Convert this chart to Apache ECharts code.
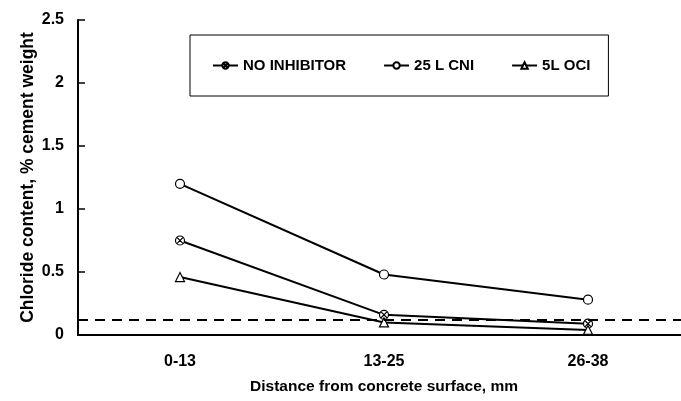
<!DOCTYPE html>
<html><head><meta charset="utf-8">
<script src="https://cdn.jsdelivr.net/npm/echarts@6/dist/echarts.min.js"></script>
<style>html,body{margin:0;padding:0;background:#fff}#c{width:681px;height:401px}</style>
</head><body><div id="c"></div>
<script>
var categories = ['0-13', '13-25', '26-38'];
var noInhibitor = [0.75, 0.16, 0.09];
var cni25 = [1.2, 0.48, 0.28];
var oci5 = [0.46, 0.10, 0.04];
var threshold = 0.12;
var seriesNames = ['NO INHIBITOR', '25 L CNI', '5L OCI'];

var font = 'Liberation Sans, Arial, sans-serif';
var crossCircle = 'path://M10,0 A10,10 0 1,1 9.99,0 Z M3,3 L17,17 M17,3 L3,17';
var circle = 'path://M10,0 A10,10 0 1,1 9.99,0 Z';
var triangle = 'path://M10,0 L20,18 L0,18 Z';
function mk(name, data, symbol) {
  return {
    name: name, type: 'line', data: data, symbol: symbol, symbolSize: 9,
    lineStyle: {color: '#000', width: 2},
    itemStyle: {color: '#fff', borderColor: '#000', borderWidth: 1.2},
    animation: false
  };
}
var s1 = mk(seriesNames[0], noInhibitor, crossCircle);
var s2 = mk(seriesNames[1], cni25, circle);
var s3 = mk(seriesNames[2], oci5, triangle);
s3.markLine = {
  silent: true, symbol: ['none', 'none'], label: {show: false},
  lineStyle: {color: '#000', width: 2, type: [10, 7]},
  data: [{yAxis: threshold}]
};
var chart = echarts.init(document.getElementById('c'));
chart.setOption({
  animation: false,
  grid: {left: 78, top: 20, width: 612, height: 315, outerBoundsMode: 'none', containLabel: false},
  legend: {
    left: 190, top: 35, orient: 'horizontal',
    padding: [23, 18, 23, 22], itemGap: 37, itemWidth: 25, itemHeight: 8,
    borderColor: '#000', borderWidth: 1,
    textStyle: {fontFamily: font, fontWeight: 'bold', fontSize: 15, color: '#000'},
    data: seriesNames
  },
  xAxis: {
    type: 'category', data: categories, boundaryGap: true,
    name: 'Distance from concrete surface, mm', nameLocation: 'middle', nameGap: 44,
    nameMoveOverlap: false,
    nameTextStyle: {fontFamily: font, fontWeight: 'bold', fontSize: 15.5, color: '#000'},
    axisLine: {lineStyle: {color: '#000', width: 2}},
    axisTick: {inside: true, length: 6, lineStyle: {color: '#000', width: 1.5}},
    axisLabel: {fontFamily: font, fontWeight: 'bold', fontSize: 16, color: '#000', margin: 19}
  },
  yAxis: {
    type: 'value', min: 0, max: 2.5, interval: 0.5,
    name: 'Chloride content, % cement weight', nameLocation: 'middle', nameGap: 41,
    nameMoveOverlap: false,
    nameTextStyle: {fontFamily: font, fontWeight: 'bold', fontSize: 17.5, color: '#000'},
    axisLine: {show: true, lineStyle: {color: '#000', width: 2}},
    axisTick: {show: true, inside: true, length: 7, lineStyle: {color: '#000', width: 1.5}},
    splitLine: {show: false},
    axisLabel: {fontFamily: font, fontWeight: 'bold', fontSize: 16, color: '#000', margin: 14}
  },
  series: [s1, s2, s3]
});
</script></body></html>
